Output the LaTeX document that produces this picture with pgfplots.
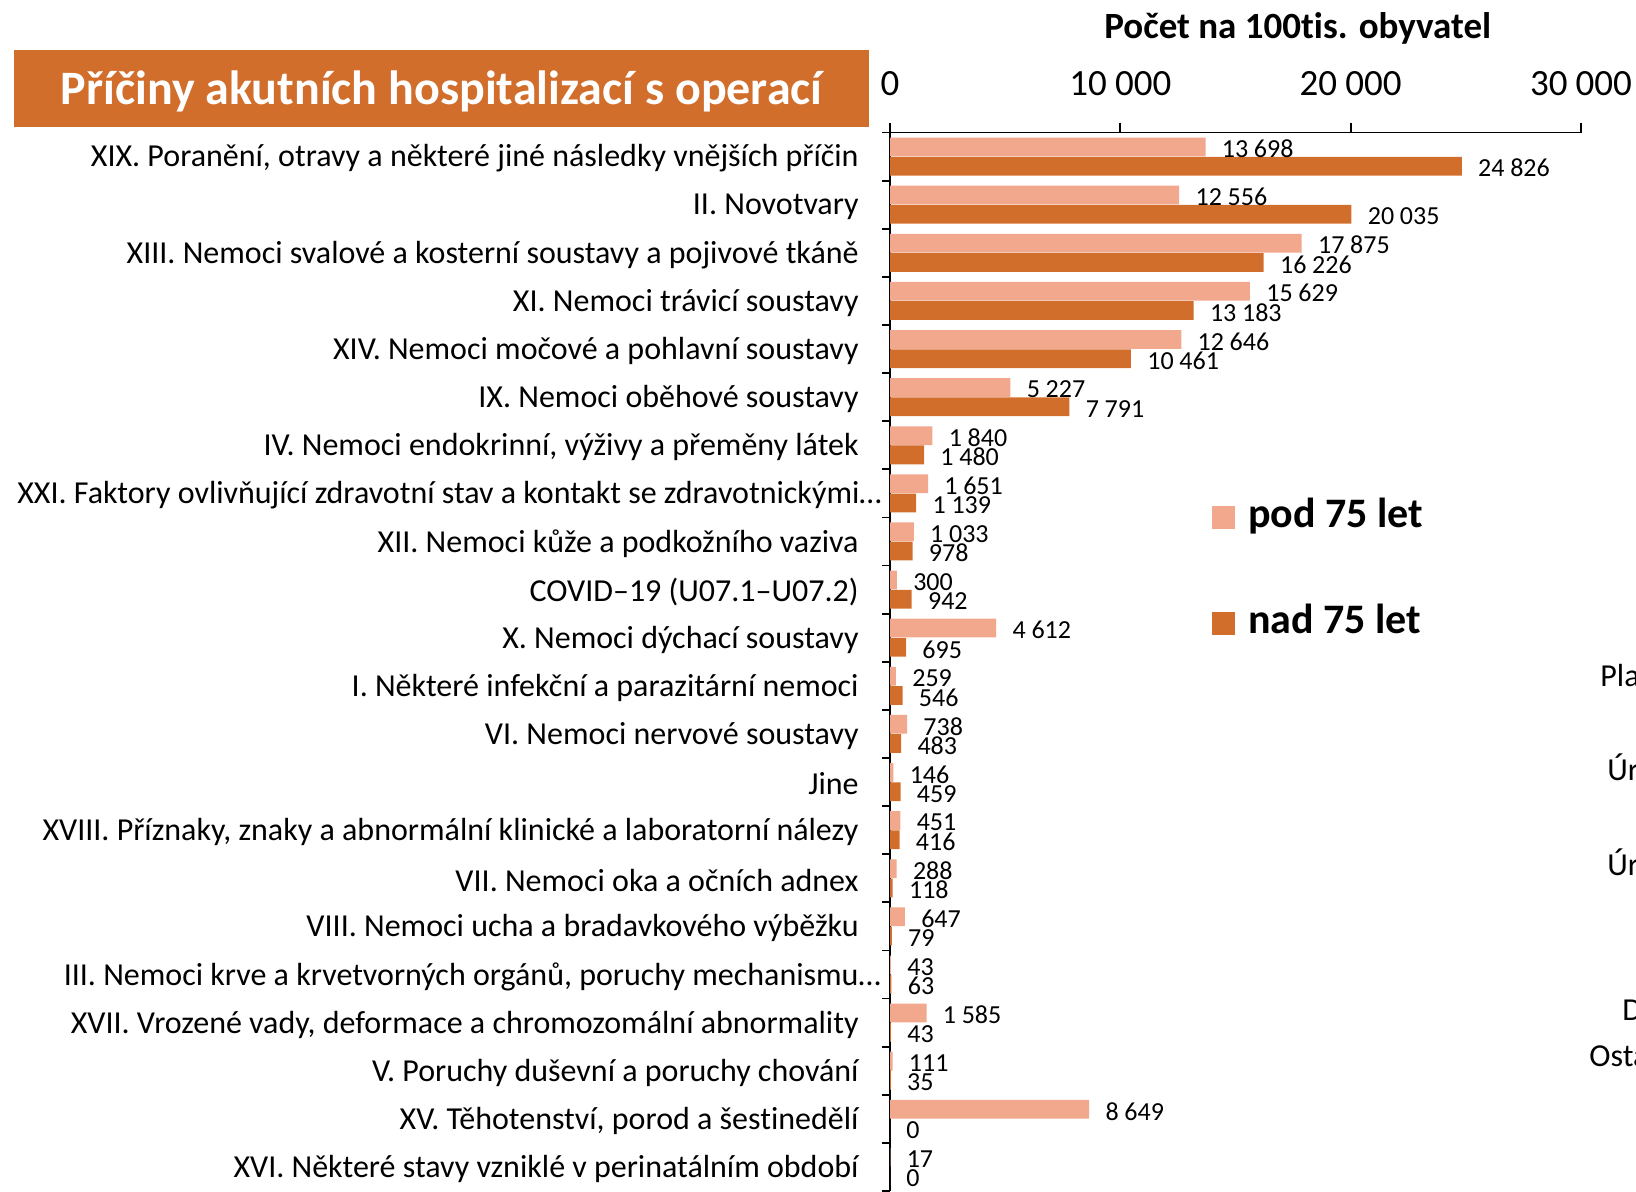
\documentclass[border=0pt]{standalone}
\usepackage{pgfplots}
\pgfplotsset{compat=1.18}
\usepackage{pgfplotstable}
\usepackage{fontspec}
\setmainfont{Carlito}[Ligatures={NoCommon}]
\definecolor{light}{HTML}{F1A88C}
\definecolor{dark}{HTML}{D26E2C}

\pgfplotstableread{
i pod nad
0 13698 24826
1 12556 20035
2 17875 16226
3 15629 13183
4 12646 10461
5 5227 7791
6 1840 1480
7 1651 1139
8 1033 978
9 300 942
10 4612 695
11 259 546
12 738 483
13 146 459
14 451 416
15 288 118
16 647 79
17 43 63
18 1585 43
19 111 35
20 8649 0
21 17 0
}\data

\begin{document}
\begin{tikzpicture}
\fill[dark] (6.8pt,531.8pt) rectangle (434.5pt,570.5pt);
\node[white, font=\bfseries\fontsize{24}{24}\selectfont] at (220.8pt,549.8pt) {Příčiny akutních hospitalizací s operací};
\begin{axis}[
 at={(445pt,0pt)}, anchor=south west,
 scale only axis, width=345.5pt, height=529.25pt,
 xmin=0, xmax=30000, ymin=-0.5, ymax=21.5, y dir=reverse,
 clip=false,
 axis x line*=top, axis y line*=left,
 axis line style={line width=0.9pt, black},
 xtick={0,10000,20000,30000},
 scaled x ticks=false,
 ytick={0,...,21},
 yticklabels={
  {XIX. Poranění, otravy a některé jiné následky vnějších příčin},
  {II. Novotvary},
  {XIII. Nemoci svalové a kosterní soustavy a pojivové tkáně},
  {XI. Nemoci trávicí soustavy},
  {XIV. Nemoci močové a pohlavní soustavy},
  {IX. Nemoci oběhové soustavy},
  {IV. Nemoci endokrinní, výživy a přeměny látek},
  {XXI. Faktory ovlivňující zdravotní stav a kontakt se zdravotnickými…\kern-11.5pt},
  {XII. Nemoci kůže a podkožního vaziva},
  {COVID–19 (U07.1–U07.2)},
  {X. Nemoci dýchací soustavy},
  {I. Některé infekční a parazitární nemoci},
  {VI. Nemoci nervové soustavy},
  {Jine},
  {XVIII. Příznaky, znaky a abnormální klinické a laboratorní nálezy},
  {VII. Nemoci oka a očních adnex},
  {VIII. Nemoci ucha a bradavkového výběžku},
  {III. Nemoci krve a krvetvorných orgánů, poruchy mechanismu…\kern-11pt},
  {XVII. Vrozené vady, deformace a chromozomální abnormality},
  {V. Poruchy duševní a poruchy chování},
  {XV. Těhotenství, porod a šestinedělí},
  {XVI. Některé stavy vzniklé v perinatálním období}},
 minor ytick={-0.5,0.5,...,21.5},
 tick align=outside, major tick length=5pt, minor tick length=4pt,
 major y tick style={draw=none},
 minor y tick style={line width=0.9pt, black},
 major x tick style={line width=0.9pt, black},
 yticklabel style={font=\fontsize{16}{16}\selectfont, inner sep=0pt, anchor=east, xshift=-10.5pt, yshift=-1pt},
 xticklabel style={font=\fontsize{18.5}{18.5}\selectfont, inner sep=0pt, anchor=center, yshift=19.25pt},
 /pgf/number format/.cd, 1000 sep={\kern0.22em}, assume math mode=true,
 /pgfplots/.cd,
 xlabel={Počet na 100tis. obyvatel},
 xlabel style={font=\bfseries\fontsize{18.5}{18.5}\selectfont, at={(axis description cs:0.59,1)}, anchor=center, yshift=52.25pt},
 legend style={at={(axis description cs:0.466,0.6557)}, anchor=north west, draw=none, fill=none, inner sep=0pt,
   font=\bfseries\fontsize{21}{21}\selectfont, row sep=33pt, column sep=6.3pt,
   nodes={inner sep=0pt, text height=15pt, text depth=5pt}},
 legend cell align=left,
]
\addplot[xbar, bar width=0.39, bar shift=0pt, fill=light, draw=none,
  point meta=x, nodes near coords, nodes near coords align={horizontal},
  every node near coord/.append style={font=\fontsize{13}{13}\selectfont, anchor=west, inner sep=0pt, xshift=8pt, yshift=-1pt, black},
  legend image code/.code={\fill[light] (0pt,-5.75pt) rectangle (11.5pt,5.75pt);}]
  table[x=pod, y expr=\thisrow{i}-0.2] {\data};
\addlegendentry{pod 75 let}
\addplot[xbar, bar width=0.39, bar shift=0pt, fill=dark, draw=none,
  point meta=x, nodes near coords, nodes near coords align={horizontal},
  every node near coord/.append style={font=\fontsize{13}{13}\selectfont, anchor=west, inner sep=0pt, xshift=8pt, yshift=-1pt, black},
  legend image code/.code={\fill[dark] (0pt,-5.75pt) rectangle (11.5pt,5.75pt);}]
  table[x=nad, y expr=\thisrow{i}+0.2] {\data};
\addlegendentry{nad 75 let}
\end{axis}
\begin{scope}[every node/.style={anchor=west, inner sep=0pt, font=\fontsize{16}{16}\selectfont}]
\node at (800pt,257.5pt) {Plastická};
\node at (803.5pt,210.5pt) {Úrazy};
\node at (803.5pt,163pt) {Úrazy};
\node at (811pt,91pt) {Dětské};
\node at (794.5pt,67.5pt) {Ostatní};
\end{scope}
\pgfresetboundingbox
\useasboundingbox (0pt,0pt) rectangle (818pt,595.5pt);
\end{tikzpicture}
\end{document}
